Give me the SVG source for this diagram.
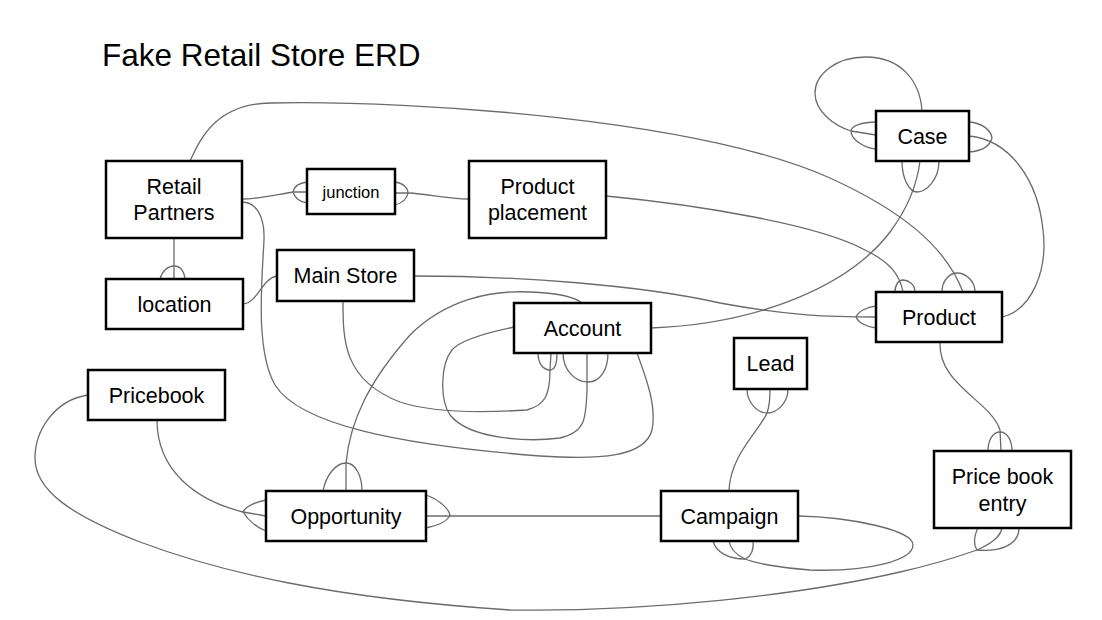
<svg xmlns="http://www.w3.org/2000/svg" width="1102" height="620" viewBox="0 0 1102 620">
<style>
.bg{fill:#ffffff}
.box{fill:#ffffff;stroke:#000000;stroke-width:2.5}
.lbl{font-family:"Liberation Sans",Arial,sans-serif;font-size:21.5px;fill:#000000;text-anchor:middle}
.small{font-size:16.5px}
.title{font-family:"Liberation Sans",Arial,sans-serif;font-size:31.5px;fill:#000000}
.con path{fill:none;stroke:#6b6b6b;stroke-width:1.3}
</style>
<rect class="bg" x="0" y="0" width="1102" height="620"/>
<text class="title" x="102" y="66">Fake Retail Store ERD</text>
<g id="connectors" class="con">
  <!-- Retail Partners top -> Product top -->
  <path d="M190,161 C200,140 215,104 270,103 C420,100 700,120 830,178 C900,210 945,245 963,292"/>
  <path d="M942,292 C942,280 950,273 957,273 C965,273 975,280 975,292"/>
  <!-- Product placement -> Product -->
  <path d="M606,196 C700,205 820,225 865,250 C890,262 900,275 903,292"/>
  <path d="M895,292 C895,284 899,280 903,280 C908,280 915,284 915,292"/>
  <!-- Main Store -> Product left -->
  <path d="M414,276 C520,276 640,285 720,303 C790,316 830,317 876,317"/>
  <path d="M876,306 C866,307 858,312 856,317 C858,322 866,327 876,328"/>
  <!-- Product right -> Case right -->
  <path d="M1002,317 C1032,310 1048,270 1043,230 C1038,180 1010,140 969,136"/>
  <path d="M969,122 C982,123 991,130 992,138 C990,146 982,151 969,152"/>
  <!-- Case self loop -->
  <path d="M922,111 C920,80 900,57 866,57 C835,57 815,75 815,93 C815,112 835,126 851,131 L876,135"/>
  <path d="M876,122 C862,122 851,126 851,131 C851,140 865,148 876,149"/>
  <!-- Account right -> Case bottom -->
  <path d="M651,328 C760,324 850,285 890,232 C908,208 917,185 920,161"/>
  <path d="M902,161 C902,180 910,192 917,192 C926,192 939,180 939,161"/>
  <!-- Product bottom -> Price book entry top -->
  <path d="M940,342 C938,385 990,400 1000,430 L1001,451"/>
  <path d="M988,451 C988,440 993,432 1000,432 C1007,432 1012,440 1012,451"/>
  <!-- Price book entry bottom -> Pricebook left -->
  <path d="M88,395 C55,400 35,430 35,458 C35,490 70,515 140,542 C220,572 330,598 510,610 C650,612 800,595 900,572 C940,563 960,556 977,550 C990,544 1000,538 1002,528"/>
  <path d="M978,528 C973,538 974,546 977,550 C1000,552 1019,545 1019,528"/>
  <!-- Pricebook -> Opportunity left -->
  <path d="M157,420 C157,470 195,500 243,512 L266,516"/>
  <path d="M266,500 C255,502 245,507 243,512 C248,520 257,528 266,531"/>
  <!-- Opportunity right -> Campaign -->
  <path d="M426,516 L661,516"/>
  <path d="M426,495 C440,500 450,510 450,516 C446,522 436,526 426,528"/>
  <!-- Opportunity top -> Account top -->
  <path d="M346,491 L346,463 C350,420 370,380 410,335 C445,300 490,290 530,292 C555,293 575,297 582,303"/>
  <path d="M323,491 C326,475 336,463 346,463 C355,463 362,475 362,491"/>
  <!-- Campaign top -> Lead bottom -->
  <path d="M729,491 C730,455 760,430 767,413 C770,405 770,398 770,389"/>
  <path d="M747,389 C747,402 757,413 767,413 C778,413 788,402 788,389"/>
  <!-- Campaign self loop -->
  <path d="M798,516 C850,517 913,530 913,545 C913,560 870,572 810,570 C780,568 755,563 745,559 C735,554 730,548 729,541"/>
  <path d="M713,541 C716,552 728,559 745,559 C752,556 754,548 753,541"/>
  <!-- Retail Partners -> junction -->
  <path d="M242,199 C258,199 270,196 293,192 L307,192"/>
  <path d="M307,182 C299,183 294,187 293,192 C295,198 300,202 307,203"/>
  <!-- junction -> Product placement -->
  <path d="M395,193 L408,193 C430,194 445,199 469,199"/>
  <path d="M395,182 C403,183 408,188 408,193 C407,199 402,203 395,205"/>
  <!-- Retail Partners -> location -->
  <path d="M174,238 L174,279"/>
  <path d="M160,279 C162,271 168,266 174,266 C180,266 184,271 185,279"/>
  <!-- location -> Main Store -->
  <path d="M243,304 C258,303 262,278 277,276"/>
  <!-- Retail Partners right -> Account bottom -->
  <path d="M242,202 C255,202 265,215 264,240 C262,280 255,350 275,385 C300,425 400,445 540,456 C600,460 645,457 652,430 C657,405 645,375 637,353"/>
  <!-- Main Store bottom -> Account bottom -->
  <path d="M343,301 C343,340 343,380 400,402 C430,412 480,413 527,410 C545,405 550,395 550,370 L551,353"/>
  <path d="M538,353 C538,363 543,370 550,370 C556,370 557,362 557,353"/>
  <!-- Account self loop -->
  <path d="M514,327 C490,332 460,340 452,350 C440,365 440,400 450,415 C470,440 530,442 560,438 C585,432 586,420 587,390 L587,353"/>
  <path d="M563,353 C563,370 575,382 588,382 C600,382 608,370 608,353"/>
</g>
<g id="retail-partners"><rect class="box" x="106" y="161" width="136" height="77"/><text class="lbl" x="174" y="193.5">Retail</text><text class="lbl" x="174" y="220">Partners</text></g>
<g id="junction"><rect class="box" x="307" y="169" width="88" height="45"/><text class="lbl small" x="351" y="197.5">junction</text></g>
<g id="product-placement"><rect class="box" x="469" y="161" width="137" height="77"/><text class="lbl" x="537.5" y="193.5">Product</text><text class="lbl" x="537.5" y="220">placement</text></g>
<g id="location"><rect class="box" x="106" y="279" width="137" height="50"/><text class="lbl" x="174.5" y="311.5">location</text></g>
<g id="main-store"><rect class="box" x="277" y="250" width="137" height="51"/><text class="lbl" x="345.5" y="283">Main Store</text></g>
<g id="account"><rect class="box" x="514" y="303" width="137" height="50"/><text class="lbl" x="582.5" y="335.5">Account</text></g>
<g id="case"><rect class="box" x="876" y="111" width="93" height="50"/><text class="lbl" x="922.5" y="143.5">Case</text></g>
<g id="product"><rect class="box" x="876" y="292" width="126" height="50"/><text class="lbl" x="939" y="324.5">Product</text></g>
<g id="price-book-entry"><rect class="box" x="934" y="451" width="137" height="77"/><text class="lbl" x="1002.5" y="484">Price book</text><text class="lbl" x="1002.5" y="510.5">entry</text></g>
<g id="lead"><rect class="box" x="734" y="338" width="73" height="51"/><text class="lbl" x="770.5" y="371">Lead</text></g>
<g id="campaign"><rect class="box" x="661" y="491" width="137" height="50"/><text class="lbl" x="729.5" y="523.5">Campaign</text></g>
<g id="opportunity"><rect class="box" x="266" y="491" width="160" height="50"/><text class="lbl" x="346" y="523.5">Opportunity</text></g>
<g id="pricebook"><rect class="box" x="88" y="370" width="137" height="50"/><text class="lbl" x="156.5" y="402.5">Pricebook</text></g>
</svg>
